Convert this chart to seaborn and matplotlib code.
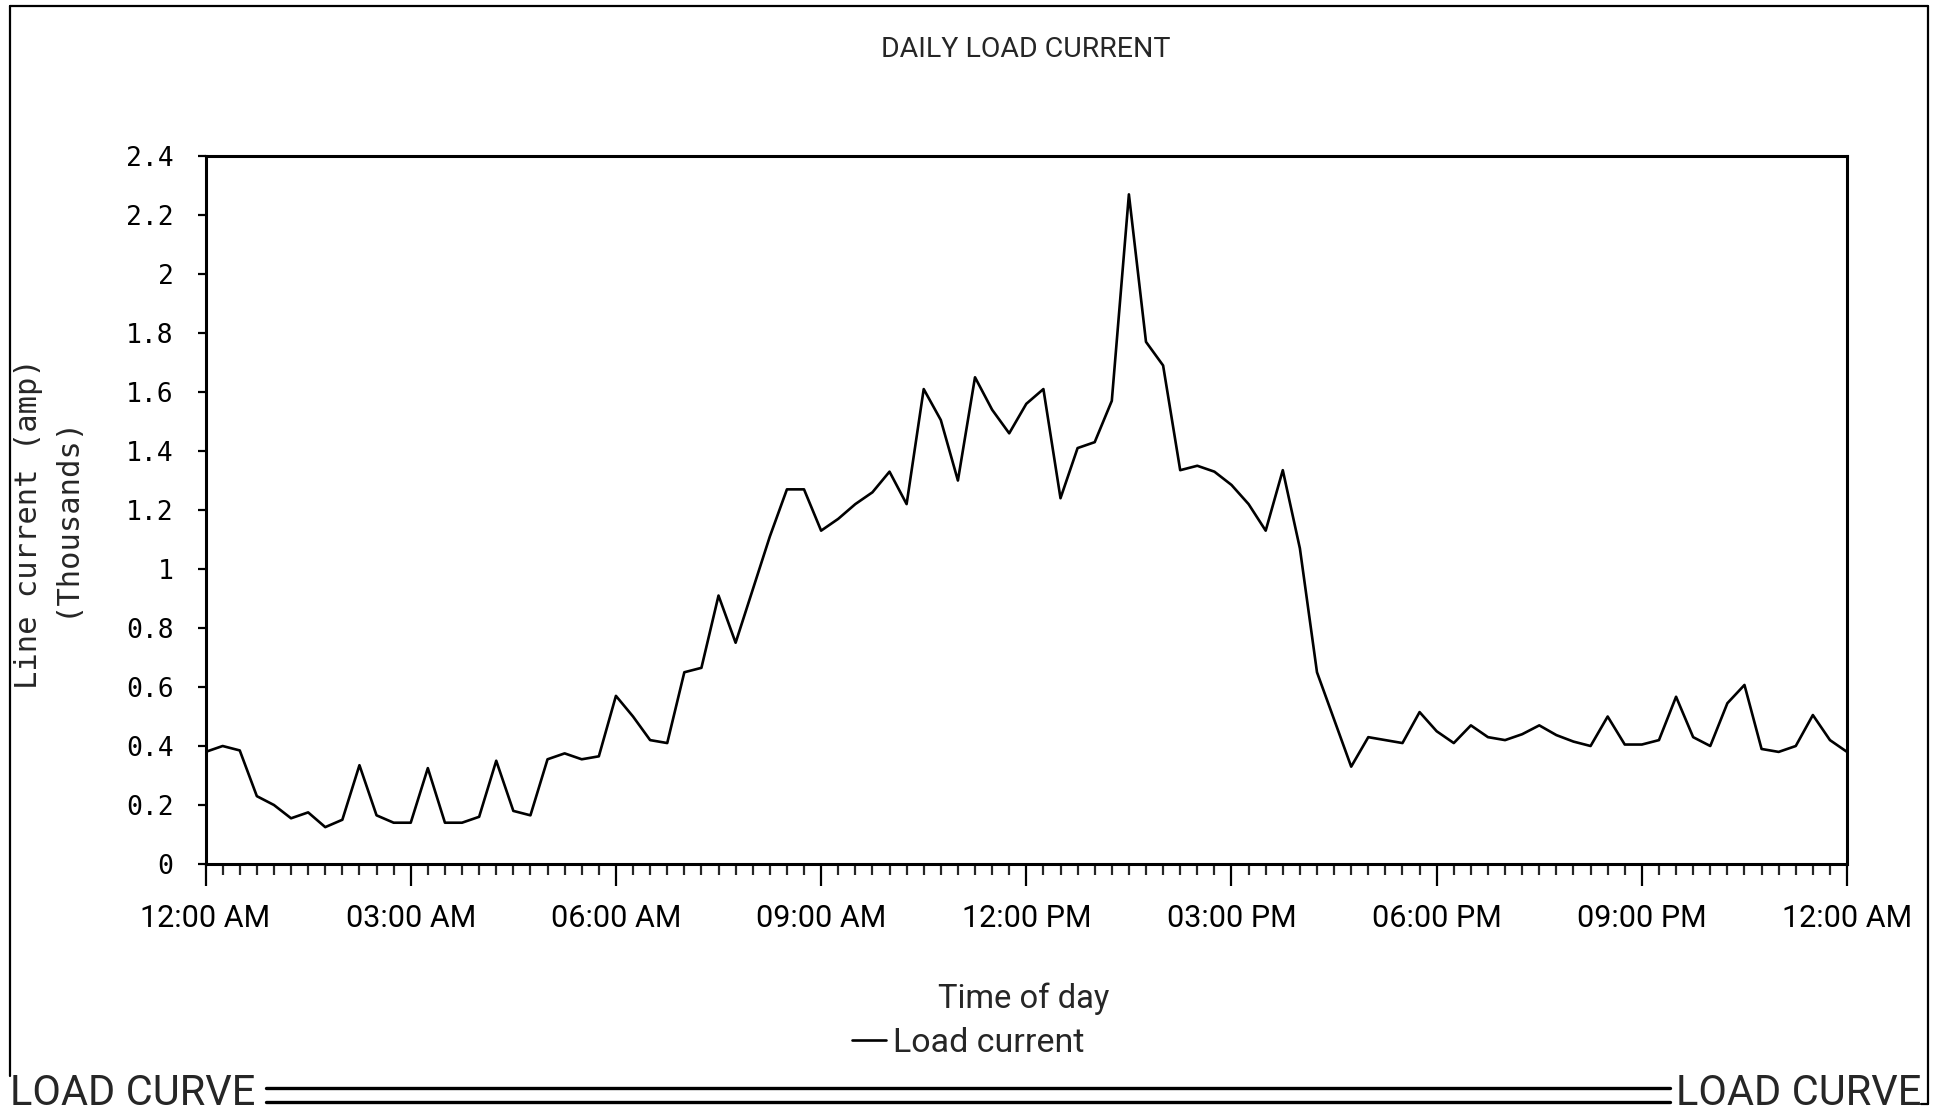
import numpy as np
import matplotlib
matplotlib.use('Agg')  # headless
import matplotlib.pyplot as plt
from matplotlib.lines import Line2D
from matplotlib.ticker import MultipleLocator, FixedLocator
import seaborn as sns

# load current in thousands of amps, one reading every 15 minutes from midnight
load_current = [
    0.38, 0.40, 0.385, 0.23,     # 00:00
    0.20, 0.155, 0.175, 0.125,   # 01:00
    0.15, 0.335, 0.165, 0.14,    # 02:00
    0.14, 0.325, 0.14, 0.14,     # 03:00
    0.16, 0.35, 0.18, 0.165,     # 04:00
    0.355, 0.375, 0.355, 0.365,  # 05:00
    0.57, 0.50, 0.42, 0.41,      # 06:00
    0.65, 0.665, 0.91, 0.75,     # 07:00
    0.93, 1.11, 1.27, 1.27,      # 08:00
    1.13, 1.17, 1.22, 1.26,      # 09:00
    1.33, 1.22, 1.61, 1.505,     # 10:00
    1.30, 1.65, 1.54, 1.46,      # 11:00
    1.56, 1.61, 1.24, 1.41,      # 12:00
    1.43, 1.57, 2.27, 1.77,      # 13:00
    1.69, 1.335, 1.35, 1.33,     # 14:00
    1.285, 1.22, 1.13, 1.335,    # 15:00
    1.07, 0.65, 0.49, 0.33,      # 16:00
    0.43, 0.42, 0.41, 0.515,     # 17:00
    0.45, 0.41, 0.47, 0.43,      # 18:00
    0.42, 0.44, 0.47, 0.437,     # 19:00
    0.415, 0.40, 0.50, 0.405,    # 20:00
    0.405, 0.42, 0.567, 0.43,    # 21:00
    0.40, 0.545, 0.607, 0.39,    # 22:00
    0.38, 0.40, 0.505, 0.42,     # 23:00
    0.38,                        # 24:00
]
tick_hours = [0, 3, 6, 9, 12, 15, 18, 21, 24]
tick_labels = ["12:00 AM", "03:00 AM", "06:00 AM", "09:00 AM", "12:00 PM",
               "03:00 PM", "06:00 PM", "09:00 PM", "12:00 AM"]
y_ticks = [0, 0.2, 0.4, 0.6, 0.8, 1.0, 1.2, 1.4, 1.6, 1.8, 2.0, 2.2, 2.4]

hours = np.arange(len(load_current)) * 0.25

sns.set_style("ticks")
SANS = ['Roboto', 'DejaVu Sans']
MONO = 'DejaVu Sans Mono'
plt.rcParams['font.family'] = SANS

W, H = 1941, 1116
fig = plt.figure(figsize=(W / 100, H / 100), dpi=100)
ax = fig.add_axes([0.1059, 0.2258, 0.8457, 0.6344])

sns.lineplot(x=hours, y=load_current, color='black', linewidth=1.9, ax=ax, legend=False)

ax.set_xlim(0, 24)
ax.set_ylim(0, 2.4)
for s in ax.spines.values():
    s.set_visible(True)
    s.set_linewidth(2.2)
    s.set_color('black')

ax.xaxis.set_major_locator(FixedLocator(tick_hours))
ax.xaxis.set_minor_locator(MultipleLocator(0.25))
ax.set_xticklabels(tick_labels, fontsize=22, family=SANS)
ax.set_yticks(y_ticks)
ax.set_yticklabels(["%g" % v for v in y_ticks], fontsize=19, family=MONO)
ax.tick_params(axis='x', which='major', direction='out', length=16, width=1.6, pad=13, colors='black')
ax.tick_params(axis='x', which='minor', direction='out', length=8, width=1.6)
ax.tick_params(axis='y', which='major', direction='out', length=6, width=1.6, pad=17, colors='black')
ax.set_xlabel("")
ax.set_ylabel("")

# titles and labels
fig.text(1026 / W, 1 - 57 / H, "DAILY LOAD CURRENT", ha='center', va='baseline', fontsize=20.5)
fig.text(1024 / W, 1 - 1008 / H, "Time of day", ha='center', va='baseline', fontsize=23.5)
fig.text(29 / W, 1 - 524 / H, "Line current (amp)", rotation=90, ha='center', va='center',
         fontsize=22, family=MONO)
fig.text(65 / W, 1 - 516 / H, "(Thousands)", rotation=90, ha='center', va='center',
         fontsize=22, family=MONO)

handle = Line2D([], [], color='black', linewidth=1.9)
fig.legend([handle], ["Load current"], loc='center', bbox_to_anchor=(968 / W, 1 - 1043 / H),
           frameon=False, handlelength=1.0, handletextpad=0.2,
           prop={'family': SANS, 'size': 24.5})

# page border and footer banner
border = dict(color='black', linewidth=1.6, transform=fig.transFigure)
fig.add_artist(Line2D([10 / W, 10 / W], [1 - 6 / H, 1 - 1076 / H], **border))
fig.add_artist(Line2D([10 / W, 1928 / W], [1 - 6 / H, 1 - 6 / H], **border))
fig.add_artist(Line2D([1928 / W, 1928 / W], [1 - 6 / H, 1 - 1104 / H], **border))
fig.add_artist(Line2D([1921 / W, 1928 / W], [1 - 1104 / H, 1 - 1104 / H], **border))
dbl = dict(color='black', linewidth=2.4, transform=fig.transFigure)
for yy in (1088, 1102):
    fig.add_artist(Line2D([266 / W, 1670 / W], [1 - yy / H, 1 - yy / H], **dbl))
fig.text(10 / W, 1 - 1114 / H, "LOAD CURVE", ha='left', va='bottom', fontsize=30)
fig.text(1921 / W, 1 - 1114 / H, "LOAD CURVE", ha='right', va='bottom', fontsize=30)

fig.savefig("out.png", dpi=100, facecolor='white')
